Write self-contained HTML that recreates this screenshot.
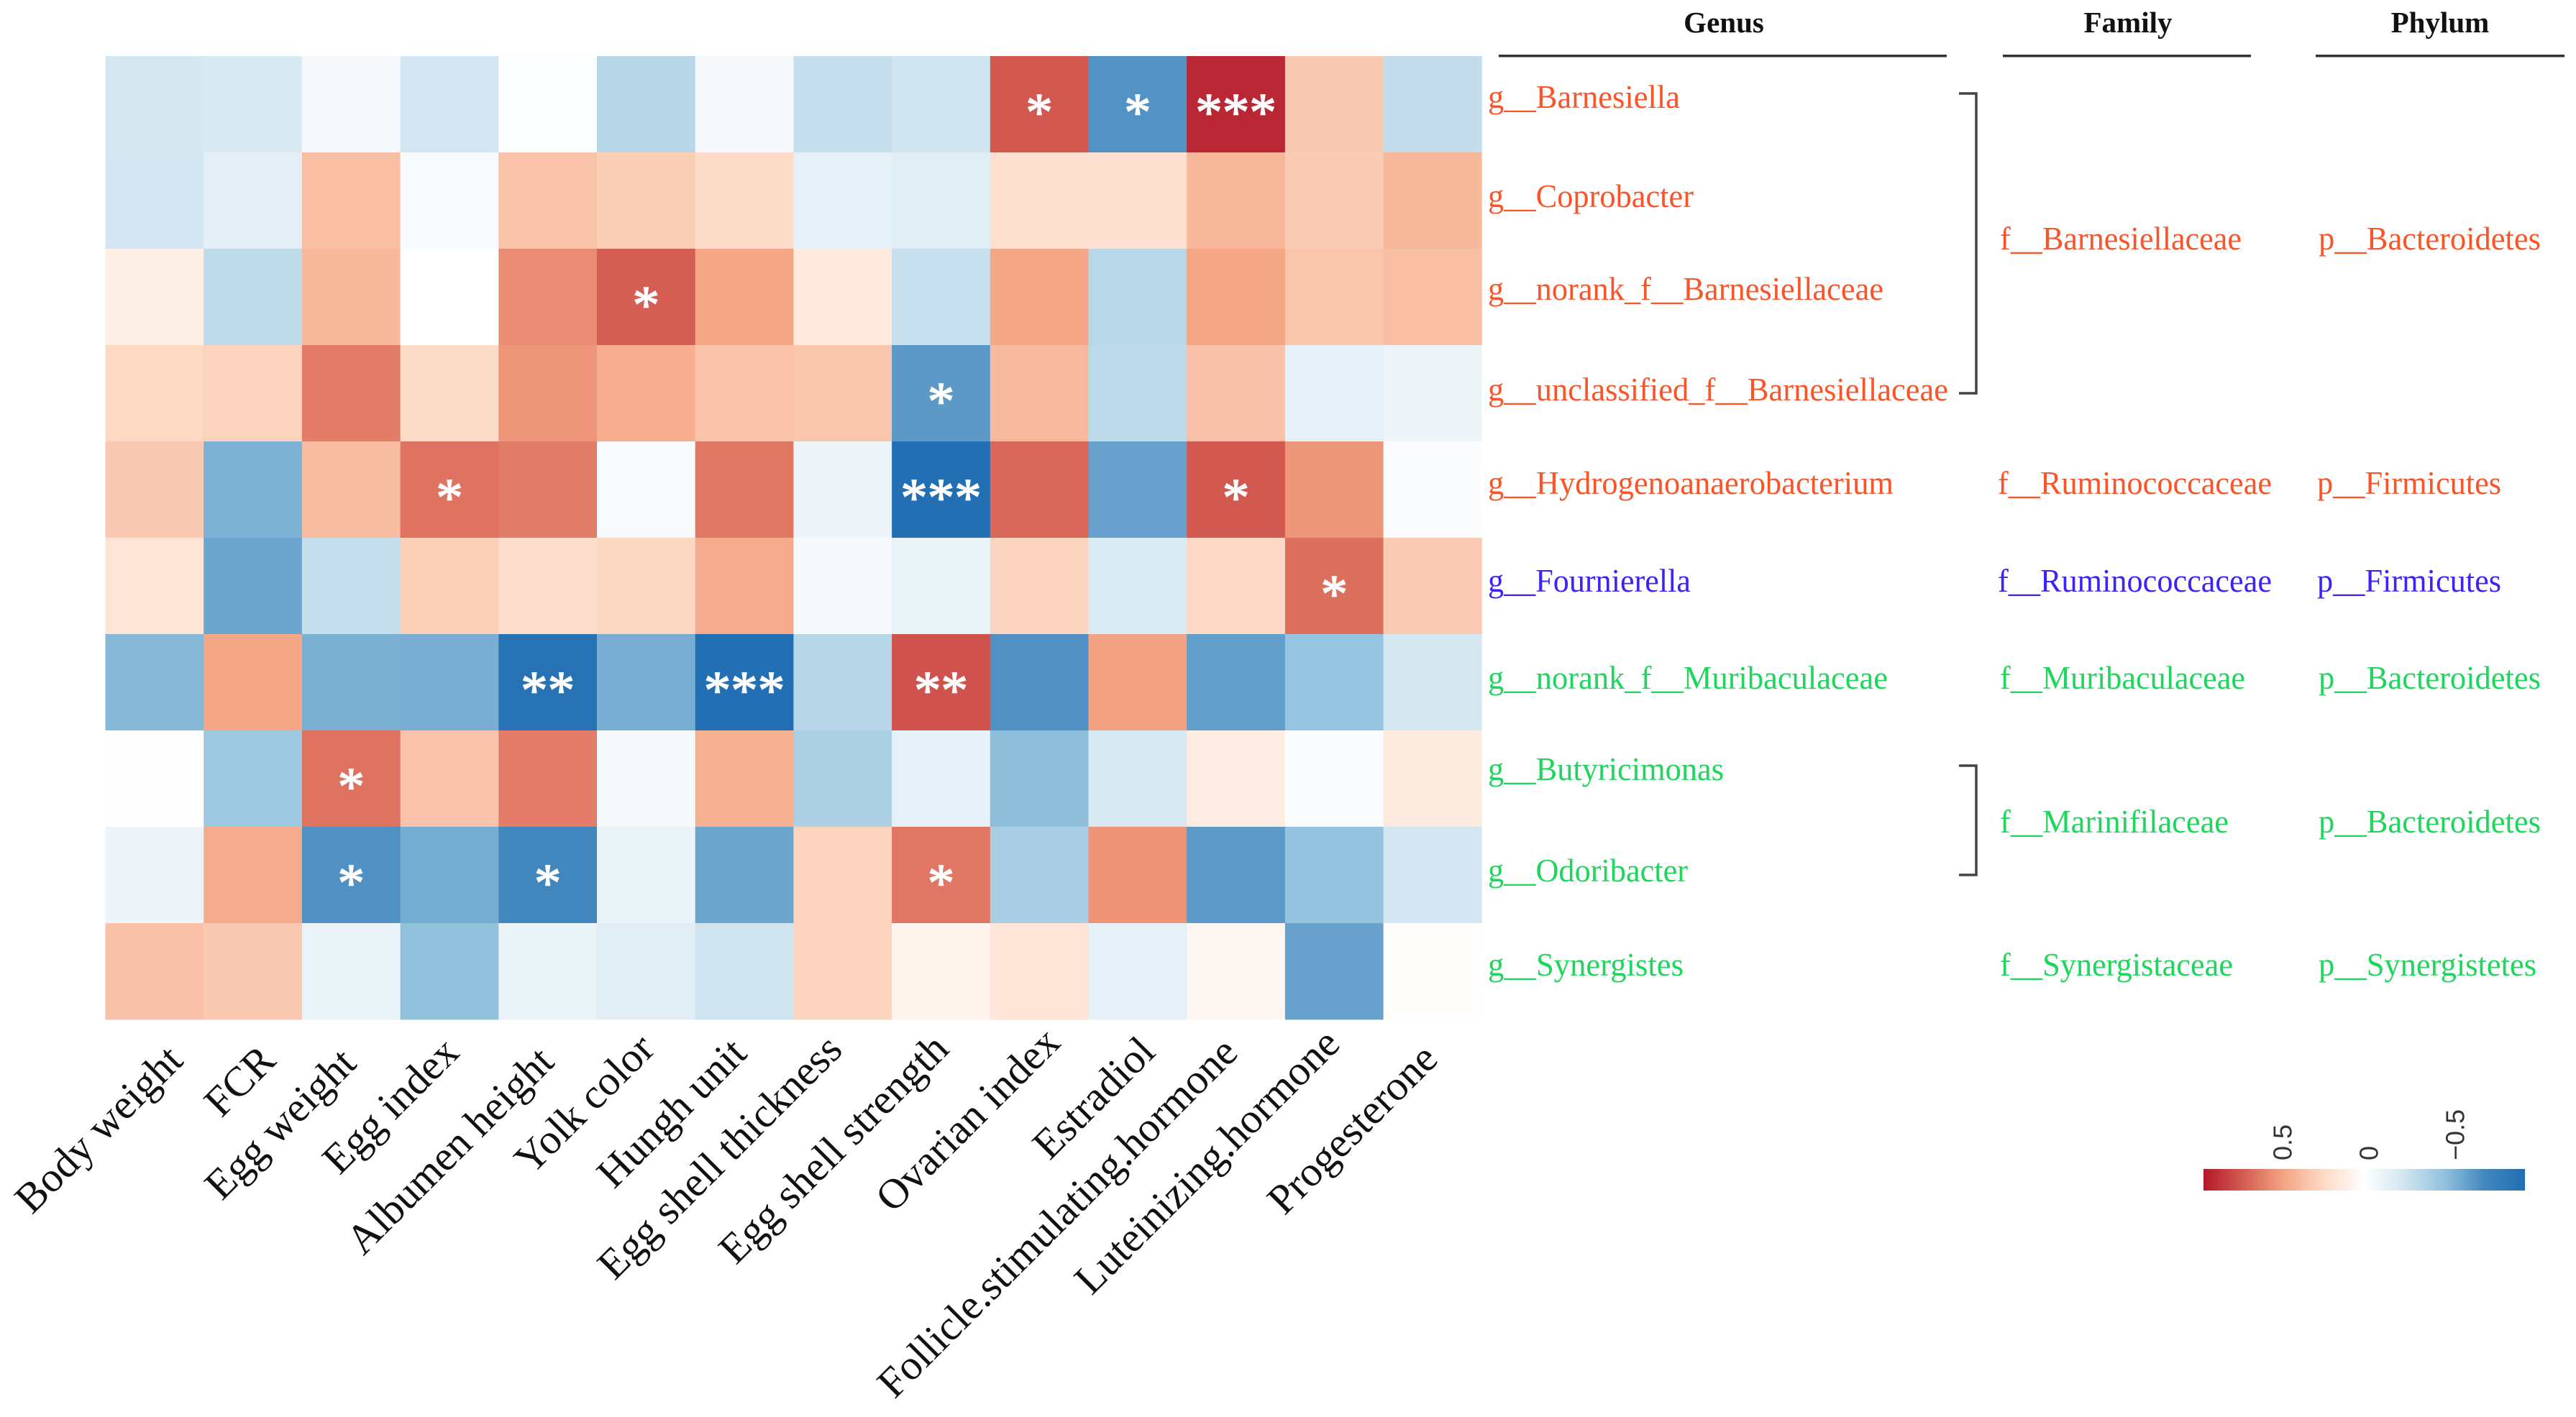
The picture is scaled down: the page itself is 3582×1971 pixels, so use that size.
<!DOCTYPE html>
<html lang="en">
<head>
<meta charset="utf-8">
<title>Genus-trait correlation heatmap</title>
<style>
html,body{margin:0;padding:0;background:#fff;}
body{width:3582px;height:1971px;overflow:hidden;}
svg{display:block;}
text{font-family:"Liberation Serif",serif;}
.red{fill:#fa5428;}
.blue{fill:#3c22fb;}
.green{fill:#1fd65c;}
.head{font-weight:bold;font-size:41px;fill:#111;text-anchor:middle;}
.tax{font-size:45px;}
.xl{font-size:58.5px;fill:#111;text-anchor:end;}
</style>
</head>
<body>
<svg id="chart" xmlns="http://www.w3.org/2000/svg" width="3582" height="1971" viewBox="0 0 3582 1971">
  <defs>
    <linearGradient id="legend-gradient" x1="0" y1="0" x2="1" y2="0"></linearGradient>
  </defs>
  <rect x="0" y="0" width="3582" height="1971" fill="#ffffff"/>
  <g id="cells"></g>
  <g id="stars"></g>

  <g>
    <text class="xl" transform="translate(257 1478) rotate(-45)">Body weight</text>
    <text class="xl" transform="translate(386 1478) rotate(-45)">FCR</text>
    <text class="xl" transform="translate(498 1482) rotate(-45)">Egg weight</text>
    <text class="xl" transform="translate(641 1467) rotate(-45)">Egg index</text>
    <text class="xl" transform="translate(773 1480) rotate(-45)">Albumen height</text>
    <text class="xl" transform="translate(913 1462) rotate(-45)">Yolk color</text>
    <text class="xl" transform="translate(1041 1468) rotate(-45)">Hungh unit</text>
    <text class="xl" transform="translate(1174 1463) rotate(-45)">Egg shell thickness</text>
    <text class="xl" transform="translate(1322 1462) rotate(-45)">Egg shell strength</text>
    <text class="xl" transform="translate(1477 1453) rotate(-45)">Ovarian index</text>
    <text class="xl" transform="translate(1609 1466) rotate(-45)">Estradiol</text>
    <text class="xl" transform="translate(1724 1467) rotate(-45)">Follicle.stimulating.hormone</text>
    <text class="xl" transform="translate(1866 1455) rotate(-45)">Luteinizing.hormone</text>
    <text class="xl" transform="translate(2002 1476) rotate(-45)">Progesterone</text>
  </g>

  <g>
    <text class="head" x="2397" y="45">Genus</text>
    <text class="head" x="2959" y="45">Family</text>
    <text class="head" x="3393" y="45">Phylum</text>
    <rect x="2084" y="76" width="623" height="3.5" fill="#333"/>
    <rect x="2785" y="76" width="345" height="3.5" fill="#333"/>
    <rect x="3220" y="76" width="346" height="3.5" fill="#333"/>
  </g>

  <g class="tax">
    <text class="red" x="2069" y="150" textLength="267" lengthAdjust="spacingAndGlyphs">g__Barnesiella</text>
    <text class="red" x="2069" y="288" textLength="286" lengthAdjust="spacingAndGlyphs">g__Coprobacter</text>
    <text class="red" x="2069" y="417" textLength="550" lengthAdjust="spacingAndGlyphs">g__norank_f__Barnesiellaceae</text>
    <text class="red" x="2069" y="557" textLength="640" lengthAdjust="spacingAndGlyphs">g__unclassified_f__Barnesiellaceae</text>
    <text class="red" x="2069" y="687" textLength="564" lengthAdjust="spacingAndGlyphs">g__Hydrogenoanaerobacterium</text>
    <text class="blue" x="2069" y="823" textLength="282" lengthAdjust="spacingAndGlyphs">g__Fournierella</text>
    <text class="green" x="2069" y="958" textLength="556" lengthAdjust="spacingAndGlyphs">g__norank_f__Muribaculaceae</text>
    <text class="green" x="2069" y="1085" textLength="328" lengthAdjust="spacingAndGlyphs">g__Butyricimonas</text>
    <text class="green" x="2069" y="1226" textLength="278" lengthAdjust="spacingAndGlyphs">g__Odoribacter</text>
    <text class="green" x="2069" y="1357" textLength="272" lengthAdjust="spacingAndGlyphs">g__Synergistes</text>
  </g>

  <g class="tax">
    <text class="red" x="2781" y="347" textLength="336" lengthAdjust="spacingAndGlyphs">f__Barnesiellaceae</text>
    <text class="red" x="2778" y="687" textLength="381" lengthAdjust="spacingAndGlyphs">f__Ruminococcaceae</text>
    <text class="blue" x="2778" y="823" textLength="381" lengthAdjust="spacingAndGlyphs">f__Ruminococcaceae</text>
    <text class="green" x="2781" y="958" textLength="341" lengthAdjust="spacingAndGlyphs">f__Muribaculaceae</text>
    <text class="green" x="2781" y="1158" textLength="318" lengthAdjust="spacingAndGlyphs">f__Marinifilaceae</text>
    <text class="green" x="2781" y="1357" textLength="324" lengthAdjust="spacingAndGlyphs">f__Synergistaceae</text>
  </g>

  <g class="tax">
    <text class="red" x="3224" y="347" textLength="309" lengthAdjust="spacingAndGlyphs">p__Bacteroidetes</text>
    <text class="red" x="3222" y="687" textLength="256" lengthAdjust="spacingAndGlyphs">p__Firmicutes</text>
    <text class="blue" x="3222" y="823" textLength="256" lengthAdjust="spacingAndGlyphs">p__Firmicutes</text>
    <text class="green" x="3224" y="958" textLength="309" lengthAdjust="spacingAndGlyphs">p__Bacteroidetes</text>
    <text class="green" x="3224" y="1158" textLength="309" lengthAdjust="spacingAndGlyphs">p__Bacteroidetes</text>
    <text class="green" x="3224" y="1357" textLength="303" lengthAdjust="spacingAndGlyphs">p__Synergistetes</text>
  </g>

  <path d="M2724 130 H2748 V547 H2724" fill="none" stroke="#444" stroke-width="3.5"/>
  <path d="M2724 1065 H2748 V1217 H2724" fill="none" stroke="#444" stroke-width="3.5"/>

  <g id="legend">
    <rect id="legend-bar" x="3064" y="1626" width="447" height="30" fill="url(#legend-gradient)"/>
  </g>
</svg>

<script>
// Columns and rows of the matrix
const traits = ["Body weight","FCR","Egg weight","Egg index","Albumen height","Yolk color","Hungh unit","Egg shell thickness","Egg shell strength","Ovarian index","Estradiol","Follicle.stimulating.hormone","Luteinizing.hormone","Progesterone"];
const genusKeys = ["barnesiella","coprobacter","norank-barnesiellaceae","unclassified-barnesiellaceae","hydrogenoanaerobacterium","fournierella","norank-muribaculaceae","butyricimonas","odoribacter","synergistes"];

// Correlation values, one array per genus
const barnesiella = [-0.21,-0.19,-0.05,-0.22,-0.02,-0.328,-0.05,-0.27,-0.235,0.71,-0.653,0.878,0.31,-0.285];
const coprobacter = [-0.22,-0.136,0.353,-0.045,0.336,0.29,0.226,-0.125,-0.16,0.2,0.2,0.383,0.297,0.385];
const norankBarnesiellaceae = [0.098,-0.298,0.383,0,0.546,0.694,0.461,0.14,-0.265,0.455,-0.325,0.46,0.323,0.353];
const unclassifiedBarnesiellaceae = [0.245,0.266,0.596,0.226,0.512,0.426,0.336,0.327,-0.624,0.374,-0.31,0.34,-0.125,-0.09];
const hydrogenoanaerobacterium = [0.31,-0.527,0.366,0.627,0.593,-0.045,0.613,-0.085,-0.92,0.667,-0.589,0.71,0.512,-0.025];
const fournierella = [0.175,-0.577,-0.28,0.284,0.21,0.25,0.44,-0.05,-0.11,0.258,-0.18,0.24,0.637,0.3];
const norankMuribaculaceae = [-0.5,0.45,-0.533,-0.54,-0.89,-0.54,-0.92,-0.33,0.733,-0.66,0.47,-0.606,-0.446,-0.21];
const butyricimonas = [-0.005,-0.42,0.63,0.33,0.596,-0.05,0.413,-0.37,-0.125,-0.477,-0.2,0.12,-0.03,0.13];
const odoribacter = [-0.085,0.435,-0.66,-0.55,-0.705,-0.11,-0.577,0.266,0.613,-0.38,0.519,-0.62,-0.455,-0.22];
const synergistes = [0.345,0.31,-0.11,-0.465,-0.11,-0.157,-0.24,0.262,0.075,0.165,-0.13,0.06,-0.589,0.008];
const correlationRows = [barnesiella,coprobacter,norankBarnesiellaceae,unclassifiedBarnesiellaceae,hydrogenoanaerobacterium,fournierella,norankMuribaculaceae,butyricimonas,odoribacter,synergistes];

// Significance marks, one array per genus
const starsBarnesiella = ["","","","","","","","","","*","*","***","",""];
const starsCoprobacter = ["","","","","","","","","","","","","",""];
const starsNorankBarnesiellaceae = ["","","","","","*","","","","","","","",""];
const starsUnclassifiedBarnesiellaceae = ["","","","","","","","","*","","","","",""];
const starsHydrogenoanaerobacterium = ["","","","*","","","","","***","","","*","",""];
const starsFournierella = ["","","","","","","","","","","","","*",""];
const starsNorankMuribaculaceae = ["","","","","**","","***","","**","","","","",""];
const starsButyricimonas = ["","","*","","","","","","","","","","",""];
const starsOdoribacter = ["","","*","","*","","","","*","","","","",""];
const starsSynergistes = ["","","","","","","","","","","","","",""];
const starRows = [starsBarnesiella,starsCoprobacter,starsNorankBarnesiellaceae,starsUnclassifiedBarnesiellaceae,starsHydrogenoanaerobacterium,starsFournierella,starsNorankMuribaculaceae,starsButyricimonas,starsOdoribacter,starsSynergistes];

// Colour legend
const legendTicks = [0.5,0,-0.5];
const legendTickLabels = ["0.5","0","\u22120.5"];
const legendExtent = [0.93,-0.93];
const colorValues = [-0.93,-0.6975,-0.465,-0.2325,0,0.2325,0.465,0.6975,0.93];
const colorHexes = ["#206eb2","#4387be","#92c1dc","#d1e5f0","#ffffff","#fddbc7","#f4a584","#d45d52","#b2182b"];

const SVG_NS = "http://www.w3.org/2000/svg";
const plotLeft = 146.5, plotTop = 78, cellW = 136.7, cellH = 134;
function xBand(i){ return plotLeft + i * cellW; }
function yBand(r){ return plotTop + r * cellH; }
function hexToRgb(h){ return [1,3,5].map(function(p){ return parseInt(h.substr(p,2),16); }); }
function colorScale(v){
  const c = Math.max(colorValues[0], Math.min(colorValues[colorValues.length-1], v));
  for (let k = 0; k < colorValues.length - 1; k++){
    if (c <= colorValues[k+1]){
      const t = (c - colorValues[k]) / (colorValues[k+1] - colorValues[k]);
      const a = hexToRgb(colorHexes[k]), b = hexToRgb(colorHexes[k+1]);
      return "rgb(" + a.map(function(ch,n){ return Math.round(ch + (b[n]-ch)*t); }).join(",") + ")";
    }
  }
  return colorHexes[colorHexes.length-1];
}
function legendX(v){ return 3064 + (legendExtent[0]-v)/(legendExtent[0]-legendExtent[1]) * 447; }

const cellsGroup = document.getElementById("cells");
const starsGroup = document.getElementById("stars");
const legendGroup = document.getElementById("legend");
const gradient = document.getElementById("legend-gradient");

correlationRows.forEach(function(row, r){
  row.forEach(function(v, c){
    const rect = document.createElementNS(SVG_NS, "rect");
    rect.setAttribute("x", xBand(c));
    rect.setAttribute("y", yBand(r));
    rect.setAttribute("width", cellW + 0.4);
    rect.setAttribute("height", cellH + 0.4);
    rect.setAttribute("fill", colorScale(v));
    
    
    rect.setAttribute("data-row", genusKeys[r]);
    rect.setAttribute("data-column", traits[c]);
    cellsGroup.appendChild(rect);

    const mark = starRows[r][c];
    if (mark){
      const star = document.createElementNS(SVG_NS, "text");
      star.setAttribute("x", xBand(c) + cellW/2);
      star.setAttribute("y", yBand(r) + cellH/2 + 36);
      star.setAttribute("text-anchor", "middle");
      star.setAttribute("fill", "#ffffff");
      star.setAttribute("stroke", "#ffffff");
      star.setAttribute("stroke-width", "1.5");
      star.setAttribute("font-size", "75");
      
      
      star.textContent = mark;
      starsGroup.appendChild(star);
    }
  });
});

colorValues.slice().reverse().forEach(function(v){
  const stop = document.createElementNS(SVG_NS, "stop");
  stop.setAttribute("offset", ((legendExtent[0]-v)/(legendExtent[0]-legendExtent[1])).toFixed(4));
  stop.setAttribute("stop-color", colorScale(v));
  gradient.appendChild(stop);
});

legendTicks.forEach(function(v, i){
  const tick = document.createElementNS(SVG_NS, "text");
  const tx = legendX(v) + 19;
  const ty = 1614;
  tick.setAttribute("x", tx);
  tick.setAttribute("y", ty);
  tick.setAttribute("font-size", "36");
  tick.setAttribute("fill", "#333333");
  tick.setAttribute("style", "font-family:'Liberation Sans',sans-serif");
  tick.setAttribute("transform", "rotate(-90 " + tx + " " + ty + ")");
  
  
  tick.textContent = legendTickLabels[i];
  legendGroup.appendChild(tick);
});
</script>
</body>
</html>
